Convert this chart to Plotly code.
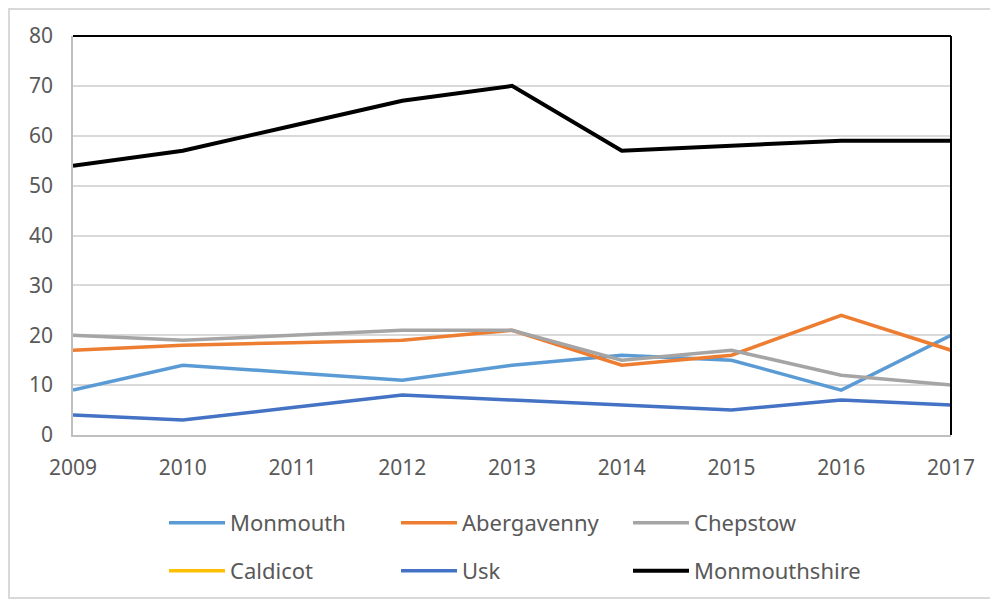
import plotly.graph_objects as go

years = [2009, 2010, 2011, 2012, 2013, 2014, 2015, 2016, 2017]

monmouth = [9, 14, 12.5, 11, 14, 16, 15, 9, 20]
abergavenny = [17, 18, 18.5, 19, 21, 14, 16, 24, 17]
chepstow = [20, 19, 20, 21, 21, 15, 17, 12, 10]
caldicot = [None] * 9
usk = [4, 3, 5.5, 8, 7, 6, 5, 7, 6]
monmouthshire = [54, 57, 62, 67, 70, 57, 58, 59, 59]

series = [
    ('Monmouth', monmouth, '#5B9BD5', 3.5, 'legend'),
    ('Abergavenny', abergavenny, '#ED7D31', 3.5, 'legend'),
    ('Chepstow', chepstow, '#A5A5A5', 3.5, 'legend'),
    ('Caldicot', caldicot, '#FFC000', 3.5, 'legend2'),
    ('Usk', usk, '#4472C4', 3.5, 'legend2'),
    ('Monmouthshire', monmouthshire, '#000000', 4, 'legend2'),
]

fig = go.Figure()

for name, vals, color, width, leg in series:
    fig.add_trace(
        go.Scatter(
            x=years,
            y=vals,
            mode='lines',
            line=dict(color=color, width=width),
            name=name,
            legend=leg,
            showlegend=True
        )
    )

# page body has an 8px margin, so the figure is a bit smaller and shifted
W, H = 990, 595
L, R, T, B = 65, 47, 28, 168
pw, ph = W - L - R, H - T - B


def px(x):
    return (x - L) / pw


def py(y):
    return (H - B - y) / ph


# plot frame (black top and right edges)
fig.add_shape(type='line', xref='paper', yref='paper', x0=0, x1=1, y0=1, y1=1,
              line=dict(color='black', width=2))
fig.add_shape(type='line', xref='paper', yref='paper', x0=1, x1=1, y0=0, y1=1,
              line=dict(color='black', width=2))
# outer chart border
fig.add_shape(type='rect', xref='paper', yref='paper', x0=px(1), x1=px(988),
              y0=py(590), y1=py(1), line=dict(color='#D9D9D9', width=2), layer='below')

tick_font = dict(family='Noto Sans', size=21, color='#595959')
leg_font = dict(family='Noto Sans', size=22, color='#595959')

legend_style = dict(
    orientation='h',
    x=px(156),
    xanchor='left',
    yanchor='top',
    entrywidth=161,
    entrywidthmode='pixels',
    itemwidth=56,
    font=leg_font,
    bgcolor='rgba(0,0,0,0)',
)

fig.update_layout(
    width=W,
    height=H,
    template='plotly_white',
    plot_bgcolor='white',
    paper_bgcolor='white',
    margin=dict(l=L, r=R, t=T, b=B, autoexpand=False),
    xaxis=dict(
        range=[2009, 2017],
        tickvals=years,
        showgrid=False,
        zeroline=False,
        showline=True,
        linecolor='#BFBFBF',
        linewidth=1.5,
        tickfont=tick_font,
        ticklabelstandoff=13,
    ),
    yaxis=dict(
        range=[0, 80],
        dtick=10,
        showgrid=True,
        gridcolor='#D9D9D9',
        gridwidth=1.5,
        zeroline=False,
        showline=True,
        linecolor='#BFBFBF',
        linewidth=1.5,
        tickfont=tick_font,
        ticklabelstandoff=14,
    ),
    legend=dict(legend_style, y=py(494)),
    legend2=dict(legend_style, y=py(542)),
)

fig.write_html('out.html')
